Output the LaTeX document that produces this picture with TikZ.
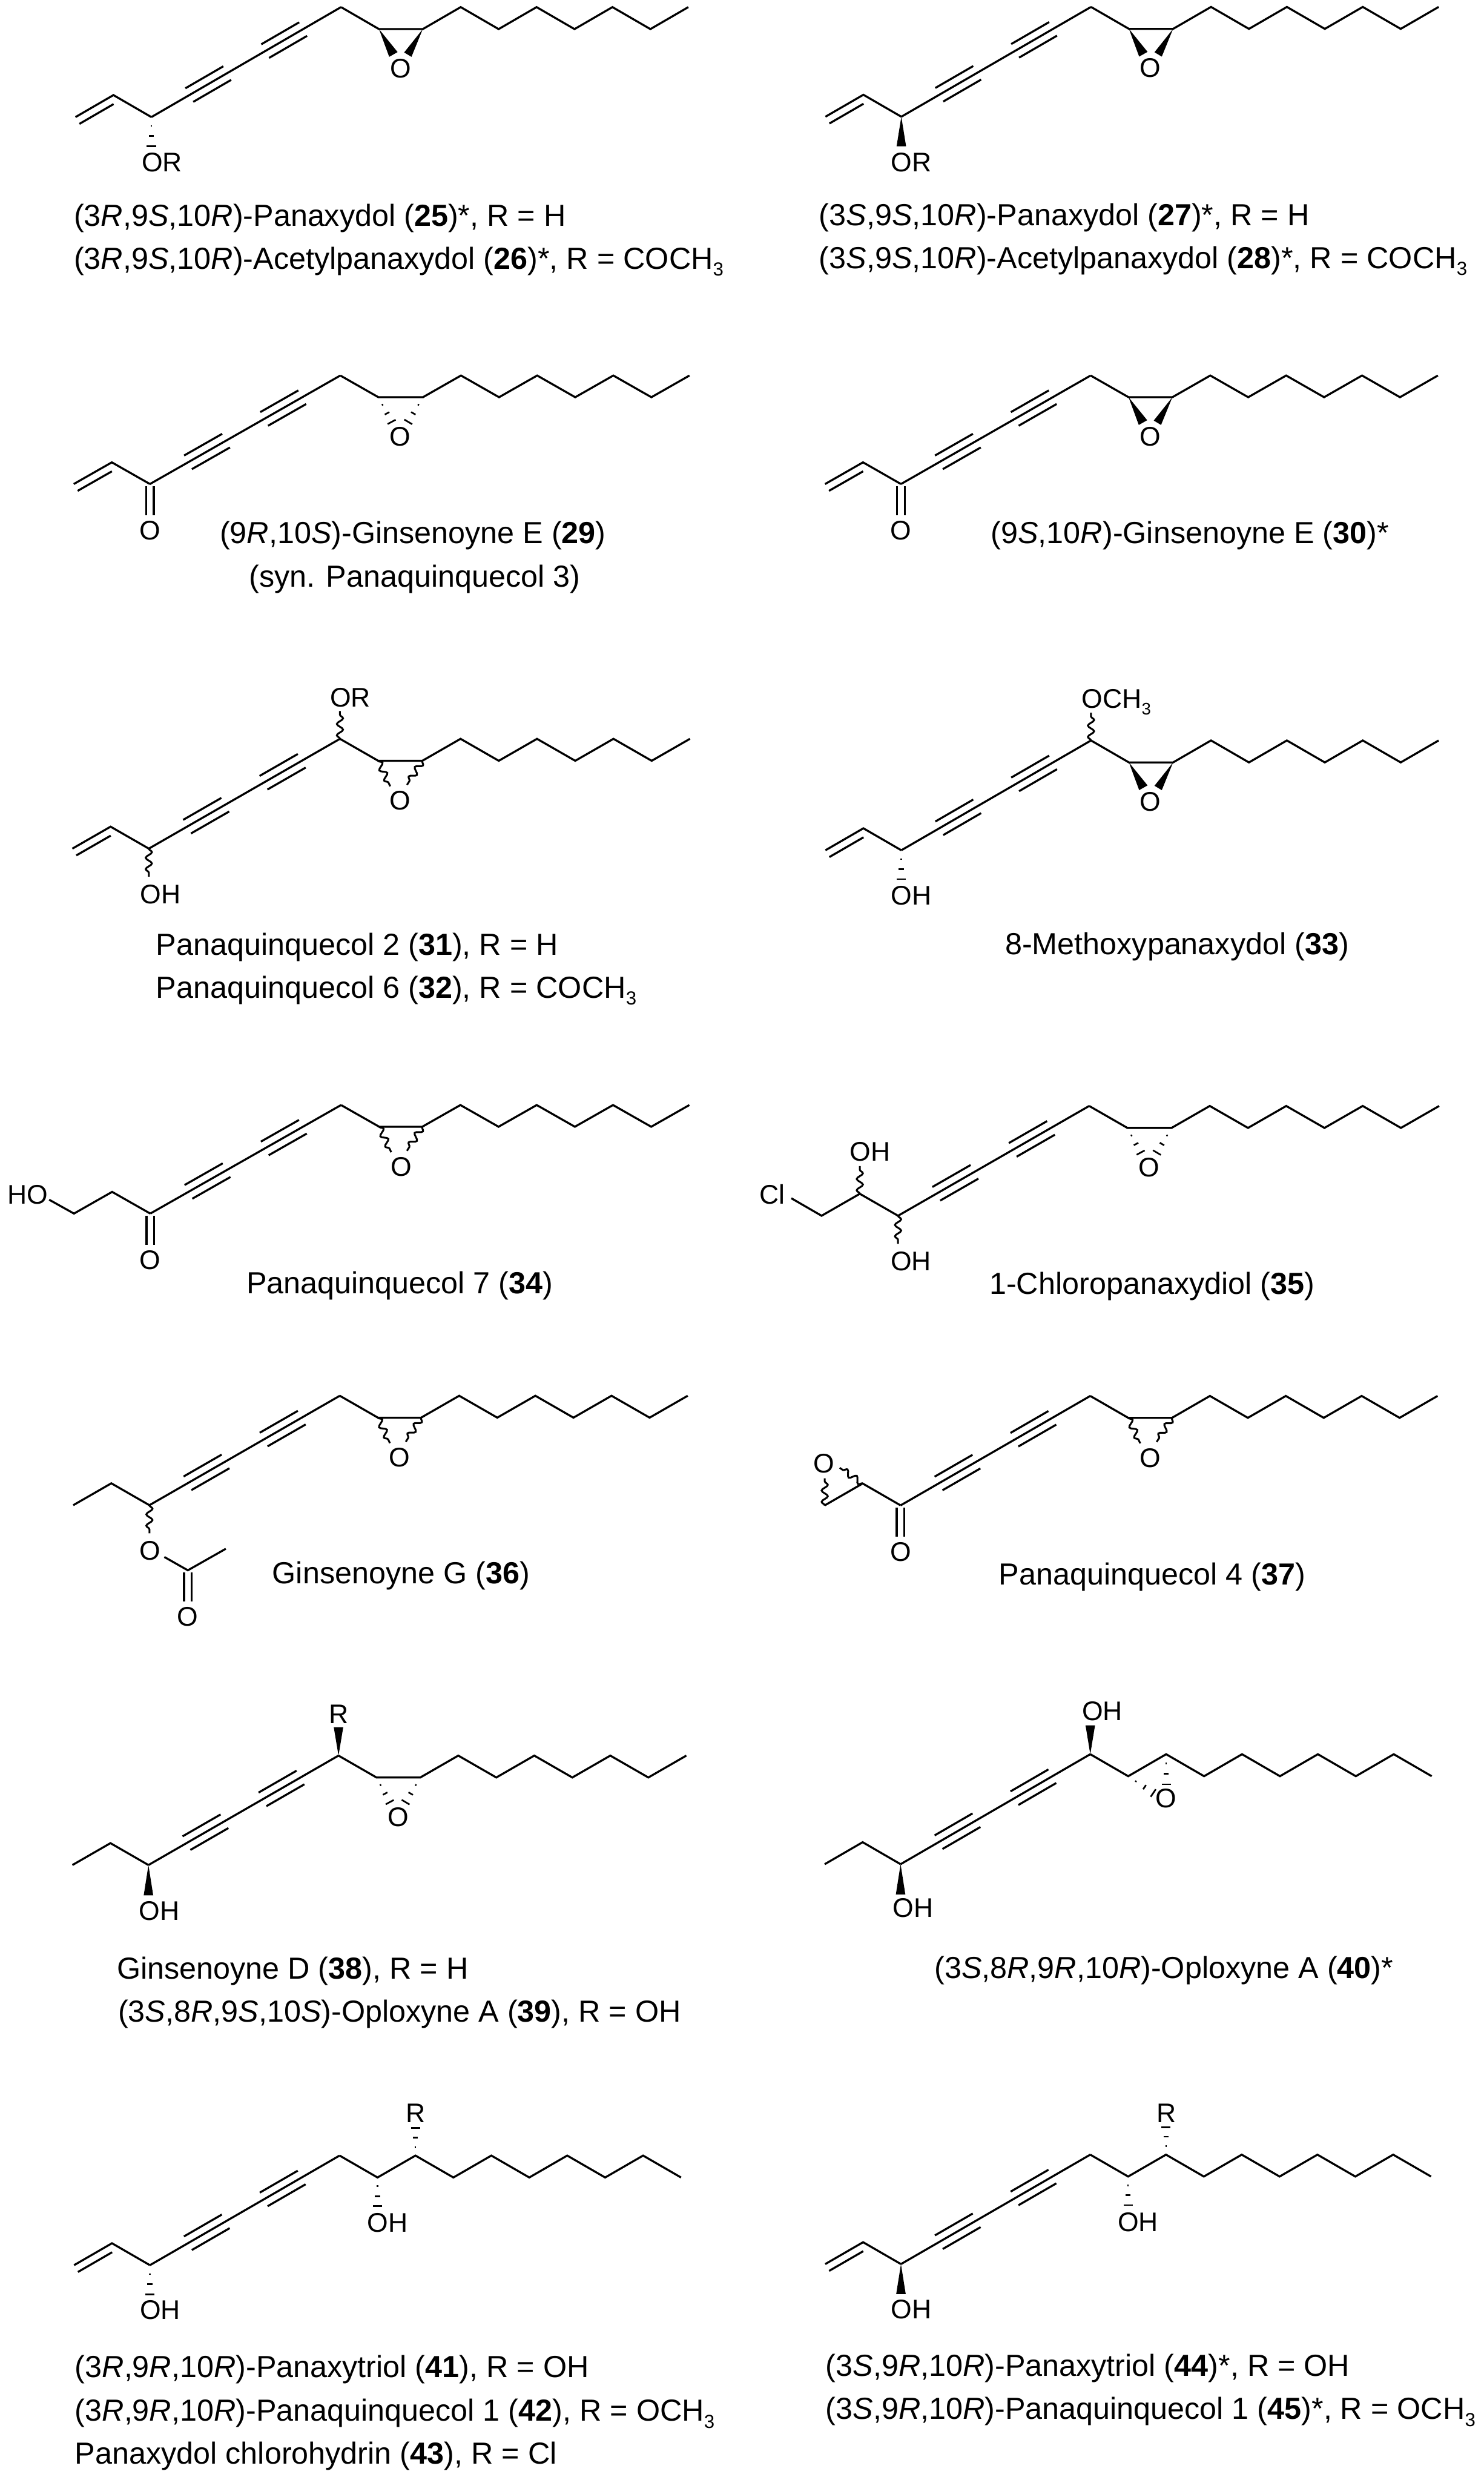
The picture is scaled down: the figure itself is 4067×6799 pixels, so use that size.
\documentclass[tikz,border=0pt]{standalone}
\usepackage{fontspec}
\usepackage{graphicx}
\setmainfont{Liberation Sans}
\usetikzlibrary{calc,decorations.pathmorphing}
\tikzset{
  bond/.style={line width=0.055cm,line join=miter,line cap=butt},
  hashbar/.style={line width=0.045cm,line cap=butt},
  wavy/.style={line width=0.05cm,decorate,decoration={snake,segment length=0.31cm,amplitude=0.085cm}},
  lab/.style={anchor=base west,inner sep=0pt,font=\fontsize{21pt}{23pt}\selectfont},
  labc/.style={anchor=base,inner sep=0pt,font=\fontsize{21pt}{23pt}\selectfont},
  captxt/.style={anchor=base west,inner sep=0pt,font=\fontsize{23.75pt}{26pt}\selectfont},
}
\newcommand{\subb}[1]{\raisebox{-.23em}{\scalebox{.62}{#1}}}
\newcommand{\gridon}{\begin{scope}[shift={(C3)},x=\sx cm,y=\sy cm]}
\newcommand{\gridoff}{\end{scope}}
% yne core: C3 position, step dx, dy
\newcommand{\base}[4]{%
  \coordinate (C3) at (#1,#2);
  \pgfmathsetmacro{\sx}{#3*0.01}\pgfmathsetmacro{\sy}{#4*0.01}\pgfmathsetmacro{\stepx}{#3}
  \gridon
    \coordinate (C2) at (-1,1); \coordinate (C1) at (-2,0);
    \coordinate (P1) at (1,1); \coordinate (P2) at (2,2);
    \coordinate (P3) at (3,3); \coordinate (P4) at (4,4); \coordinate (P5) at (5,5);
  \gridoff
  \draw[bond] (C3) -- (P5);
  \draw[bond] ($(P1)!0.215cm!90:(P2)$) -- ($(P2)!0.215cm!-90:(P1)$);
  \draw[bond] ($(P1)!0.215cm!-90:(P2)$) -- ($(P2)!0.215cm!90:(P1)$);
  \draw[bond] ($(P3)!0.215cm!90:(P4)$) -- ($(P4)!0.215cm!-90:(P3)$);
  \draw[bond] ($(P3)!0.215cm!-90:(P4)$) -- ($(P4)!0.215cm!90:(P3)$);
}
% epoxide tail, #1 = width of the C9-C10 bond
\newcommand{\tailE}[1]{%
  \pgfmathsetmacro{\wc}{6+#1/\stepx}
  \gridon
    \coordinate (C9) at (6,4); \coordinate (C10) at (\wc,4);
    \draw[bond] (P5) -- (C9) -- (C10) -- (\wc+1,5) -- (\wc+2,4) -- (\wc+3,5) -- (\wc+4,4) -- (\wc+5,5) -- (\wc+6,4) -- (\wc+7,5);
  \gridoff
}
% plain zigzag tail
\newcommand{\tailD}{%
  \gridon
    \coordinate (C9) at (6,4); \coordinate (C10) at (7,5);
    \draw[bond] (P5) -- (C9) -- (C10) -- (8,4) -- (9,5) -- (10,4) -- (11,5) -- (12,4) -- (13,5) -- (14,4);
  \gridoff
}
\newcommand{\vinyl}{%
  \draw[bond] (C3) -- (C2) -- (C1);
  \draw[bond] ($($(C2)!.1!(C1)$)!0.215cm!90:(C1)$) -- ($(C1)!0.215cm!-90:(C2)$);
}
\newcommand{\ethyl}{\draw[bond] (C3) -- (C2) -- (C1);}
\newcommand{\carbonyl}[2]{%
  \draw[bond] ($(#1)+(-10.5,6)$) -- ($(#1)+(-10.5,85)$);
  \draw[bond] ($(#1)+(10.5,6)$) -- ($(#1)+(10.5,85)$);
  \node[labc] (#2) at ($(#1)+(0,153)$) {O};
}
\newcommand{\wedgeb}[2]{%
  \path (#1) ++(#2) coordinate (e);
  \fill (#1) -- ($(e)!0.13cm!90:(#1)$) -- ($(e)!0.13cm!-90:(#1)$) -- cycle;
}
\newcommand{\hashb}[2]{%
  \path (#1) ++(#2) coordinate (e);
  \foreach \ff/\hw in {.3/.02cm,.64/.07cm,.98/.125cm}{
    \draw[hashbar] ($(#1)!\ff!(e)!\hw!90:(e)$) -- ($(#1)!\ff!(e)!\hw!-90:(e)$);
  }
}
\newcommand{\wavyb}[2]{%
  \path (#1) ++(#2) coordinate (e);
  \draw[wavy] (#1) -- (e);
}
\newcommand{\lab}[4]{\node[lab] (#1) at ($(#2)+(#3)$) {#4};}
\newcommand{\capt}[4]{\node[captxt] (#1) at (#2,#3) {#4};}
\newcommand{\oxoW}[1]{%
  \fill (C9) -- ++(28,76) -- ++(23,-13) -- cycle;
  \fill (C10) -- ++(-51,64) -- ++(20,12) -- cycle;
  \node[labc] (#1) at ($(C9)+(59,133)$) {O};
}
\newcommand{\oxoH}[1]{%
  \hashb{C9}{37,69}\hashb{C10}{-41,69}
  \node[labc] (#1) at ($(C9)+(60,134)$) {O};
}
\newcommand{\oxoV}[1]{%
  \wavyb{C9}{33,70}\wavyb{C10}{-42,66}
  \node[labc] (#1) at ($(C9)+(60,135)$) {O};
}
\newcommand{\R}{\textit{R}}
\newcommand{\Ss}{\textit{S}}
\begin{document}
\begin{tikzpicture}[x=0.01cm,y=-0.01cm]
\useasboundingbox (0,0) rectangle (4067,6799);
% 25/26
\base{415}{321}{104}{60.3}\tailE{120}\vinyl\oxoW{oa}
\hashb{C3}{0,81}\lab{ta}{C3}{-27,150}{OR}
\capt{ca}{202}{620}{(3\R,9\Ss,10\R)-Panaxydol (\textbf{25})*, R = H}
\capt{cb}{202}{737}{(3\R,9\Ss,10\R)-Acetylpanaxydol (\textbf{26})*, R = COCH\subb{3}}
% 27/28
\base{2471}{320}{104}{60.2}\tailE{121}\vinyl\oxoW{ob}
\wedgeb{C3}{0,81}\lab{tb}{C3}{-29,150}{OR}
\capt{cc}{2245}{618}{(3\Ss,9\Ss,10\R)-Panaxydol (\textbf{27})*, R = H}
\capt{cd}{2245}{736}{(3\Ss,9\Ss,10\R)-Acetylpanaxydol (\textbf{28})*, R = COCH\subb{3}}
% 29
\base{411}{1327}{104.4}{59.5}\tailE{122}\vinyl\oxoH{oc}\carbonyl{C3}{od}
\capt{ce}{602}{1490}{(9\R,10\Ss)-Ginsenoyne E (\textbf{29})}
\capt{cf}{682}{1609}{(syn. Panaquinquecol 3)}
% 30
\base{2470}{1327}{104}{59.5}\tailE{120}\vinyl\oxoW{oe}\carbonyl{C3}{of}
\capt{cg}{2716}{1490}{(9\Ss,10\R)-Ginsenoyne E (\textbf{30})*}
% 31/32
\base{408}{2326.5}{104.8}{60.2}\tailE{121}\vinyl\oxoV{og}
\wavyb{C3}{0,77}\lab{tc}{C3}{-24,151}{OH}
\wavyb{P5}{0,-76}\lab{td}{P5}{-28,-88}{OR}
\capt{ch}{427}{2618}{Panaquinquecol 2 (\textbf{31}), R = H}
\capt{ci}{427}{2736}{Panaquinquecol 6 (\textbf{32}), R = COCH\subb{3}}
% 33
\base{2471}{2331}{104}{60.2}\tailE{121}\vinyl\oxoW{oh}
\hashb{C3}{0,81}\lab{te}{C3}{-29,149}{OH}
\wavyb{P5}{0,-76}\lab{tf}{P5}{-26,-88}{OCH\subb{3}}
\capt{cj}{2755}{2616}{8-Methoxypanaxydol (\textbf{33})}
% 34
\base{412}{3327}{104.6}{59.5}\tailE{118}\oxoV{oi}\carbonyl{C3}{oj}
\draw[bond] (C3) -- (C2) -- (C1) -- ++(-68,-38);
\lab{tg}{C3}{-392,-27}{HO}
\capt{ck}{675}{3547}{Panaquinquecol 7 (\textbf{34})}
% 35
\base{2462}{3333}{104.8}{60.2}\tailE{121}\oxoH{ok}
\draw[bond] (C3) -- (C2) -- (C1) -- ++(-83,-48);
\wavyb{C2}{0,-76}\lab{th}{C2}{-28,-90}{OH}
\wavyb{C3}{0,77}\lab{ti}{C3}{-21,150}{OH}
\lab{tj}{C1}{-171,-32}{Cl}
\capt{cl}{2712}{3548}{1-Chloropanaxydiol (\textbf{35})}
% 36
\base{409.6}{4126.5}{104.4}{60}\tailE{118.5}\ethyl\oxoV{ol}
\wavyb{C3}{0,77}
\node[labc] (om) at ($(C3)+(2,150)$) {O};
\coordinate (Ac) at (515,4305);
\coordinate (Ao) at ($(C3)+(41,142)$);
\coordinate (Am) at (619,4246);
\draw[bond] (Ao) -- (Ac) -- (Am);
\carbonyl{Ac}{on}
\capt{cm}{746}{4342}{Ginsenoyne G (\textbf{36})}
% 37
\base{2469}{4127}{104}{60}\tailE{120}\oxoV{oo}\carbonyl{C3}{op}
\draw[bond] (C3) -- (C2) -- (C1);
\wavyb{C2}{-63,-43}\wavyb{C1}{0,-74}
\node[labc] (oq) at ($(C1)+(-3,-90)$) {O};
\capt{cn}{2738}{4344}{Panaquinquecol 4 (\textbf{37})}
% 38/39
\base{407}{5113}{104.2}{60}\tailE{120}\ethyl\oxoH{or}
\wedgeb{C3}{0,83}\lab{tk}{C3}{-26,152}{OH}
\wedgeb{P5}{0,-78}\node[labc] (tl) at ($(P5)+(0,-88)$) {R};
\capt{co}{320}{5426}{Ginsenoyne D (\textbf{38}), R = H}
\capt{cp}{323}{5544}{(3\Ss,8\R,9\Ss,10\Ss)-Oploxyne A (\textbf{39}), R = OH}
% 40
\base{2469}{5110.7}{104}{60.3}\tailD\ethyl
\wedgeb{C3}{0,83}\lab{tm}{C3}{-22,145}{OH}
\wedgeb{P5}{0,-79}\lab{tn}{P5}{-23,-93}{OH}
\hashb{C9}{70,47}\hashb{C10}{0,84}
\node[labc] (os) at ($(C10)+(-1,147)$) {O};
\capt{cq}{2561}{5424}{(3\Ss,8\R,9\R,10\R)-Oploxyne A (\textbf{40})*}
% 41/42/43
\base{411}{6210}{104}{60.1}\tailD\vinyl
\hashb{C3}{0,82}\lab{to}{C3}{-28,149}{OH}
\hashb{C9}{0,80}\lab{tp}{C9}{-29,150}{OH}
\hashb{C10}{0,-77}\node[labc] (tq) at ($(C10)+(0,-90)$) {R};
\capt{cr}{205}{6518}{(3\R,9\R,10\R)-Panaxytriol (\textbf{41}), R = OH}
\capt{cs}{205}{6637}{(3\R,9\R,10\R)-Panaquinquecol 1 (\textbf{42}), R = OCH\subb{3}}
\capt{ct}{205}{6755}{Panaxydol chlorohydrin (\textbf{43}), R = Cl}
% 44/45
\base{2470}{6207}{103.8}{60}\tailD\vinyl
\wedgeb{C3}{0,82}\lab{tr}{C3}{-28,150}{OH}
\hashb{C9}{0,80}\lab{ts}{C9}{-29,150}{OH}
\hashb{C10}{0,-77}\node[labc] (tt) at ($(C10)+(2,-89)$) {R};
\capt{cu}{2263}{6514}{(3\Ss,9\R,10\R)-Panaxytriol (\textbf{44})*, R = OH}
\capt{cv}{2263}{6632}{(3\Ss,9\R,10\R)-Panaquinquecol 1 (\textbf{45})*, R = OCH\subb{3}}
\end{tikzpicture}
\end{document}
